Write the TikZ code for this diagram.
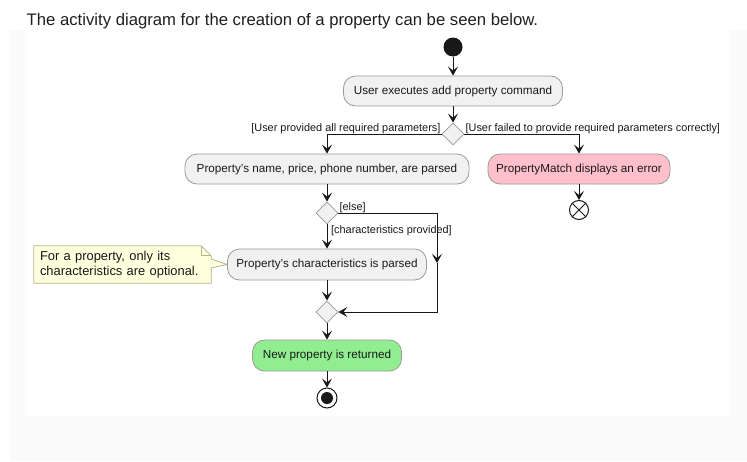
\documentclass[tikz,border=0pt]{standalone}
\usepackage{fontspec}
\setmainfont{Liberation Sans}
\usetikzlibrary{shapes.geometric,arrows.meta,backgrounds}

\definecolor{grigioAtt}{HTML}{F1F1F1}
\definecolor{bordoAtt}{HTML}{9A9A9A}
\definecolor{rosaErr}{HTML}{FFC0CB}
\definecolor{verdeFine}{HTML}{90EE90}
\definecolor{gialloNota}{HTML}{FEFFDD}
\definecolor{notaBordo}{HTML}{B5B58A}
\definecolor{linea}{HTML}{181818}
\definecolor{sfondo}{HTML}{FAFAFA}

\begin{document}
\begin{tikzpicture}[x=1pt, y=-1pt,
        every node/.style={text=black!90},
        azione/.style={draw=bordoAtt, fill=grigioAtt, rounded corners=12pt, minimum height=30pt, inner sep=0pt, line width=0.8pt, font=\fontsize{11.7}{14}\selectfont},
        decisione/.style={diamond, draw=bordoAtt, fill=grigioAtt, minimum width=22pt, minimum height=22pt, inner sep=0pt, line width=0.8pt},
        guardia/.style={font=\fontsize{10.9}{13}\selectfont, inner sep=1pt},
        freccia/.style={draw=linea, line width=1pt, -{Stealth[length=9pt, width=10pt, inset=4pt]}},
        contornoNota/.style={draw=notaBordo, fill=gialloNota, line width=0.8pt, line join=miter}
    ]

        % Sfondo
        \useasboundingbox (0,0) rectangle (747,461);
        \begin{scope}[on background layer]
            \fill[sfondo] (10,30) rectangle (747,461);
            \fill[white] (25,30) rectangle (730,416);
        \end{scope}
        \node[anchor=base west, inner sep=0pt, font=\fontsize{16.7}{20}\selectfont, text=black!88] (titolo) at (26.5,25) {The activity diagram for the creation of a property can be seen below.};

        % Nodi
        \node[circle, fill=linea, minimum size=19pt, inner sep=0pt] (inizio) at (453,47) {};
        \node[azione, minimum width=219pt] (comando) at (453,91) {User executes add property command};
        \node[decisione] (scelta) at (453,134) {};
        \node[azione, minimum width=284pt] (parsing) at (327,169) {Property's name, price, phone number, are parsed};
        \node[azione, minimum width=182pt, fill=rosaErr] (errore) at (579,169) {PropertyMatch displays an error};
        \node[circle, draw=linea, line width=1pt, minimum size=19pt, inner sep=0pt] (stopErr) at (579,210) {};
        \node[decisione] (sceltaCar) at (327,213) {};
        \node[azione, minimum width=199pt, minimum height=31pt] (caratt) at (327,264.5) {Property's characteristics is parsed};
        \node[decisione] (unione) at (327,312) {};
        \node[azione, minimum width=149pt, minimum height=31pt, fill=verdeFine] (ritorno) at (327,355.5) {New property is returned};
        \node[circle, draw=linea, line width=1pt, minimum size=20pt, inner sep=0pt] (fine) at (327,398) {};
        \node[circle, fill=linea, minimum size=12pt, inner sep=0pt] (fineDentro) at (fine) {};

        % Nota
        \node[inner xsep=6pt, inner ysep=0pt, text width=165pt, minimum height=37pt, align=left, font=\fontsize{12.9}{14.5}\selectfont] (nota) at (122.5,264.5) {For a property, only its\\characteristics are optional.};
        \begin{scope}[on background layer]
            \draw[contornoNota] (nota.south west) -- (nota.north west) -- ([xshift=-10pt]nota.north east) -- ([yshift=-10pt]nota.north east) -- ([yshift=5.5pt]nota.east) -- (caratt.west) -- ([yshift=-3.5pt]nota.east) -- (nota.south east) -- cycle;
            \draw[contornoNota, fill=none] ([xshift=-10pt]nota.north east) -- ([xshift=-10pt, yshift=-10pt]nota.north east) -- ([yshift=-10pt]nota.north east);
        \end{scope}

        % Frecce
        \draw[freccia] (inizio) -- (comando);
        \draw[freccia] (comando) -- (scelta);
        \draw[freccia] (scelta.west) -| (parsing.north);
        \draw[freccia] (scelta.east) -| (errore.north);
        \draw[freccia] (errore) -- (stopErr);
        \draw[draw=linea, line width=1pt] (stopErr.north west) -- (stopErr.south east) (stopErr.north east) -- (stopErr.south west);
        \draw[freccia] (parsing) -- (sceltaCar);
        \draw[freccia] (sceltaCar) -- (caratt);
        \draw[freccia] (caratt) -- (unione);
        \draw[freccia] (unione) -- (ritorno);
        \draw[freccia] (ritorno) -- (fine);

        % Ramo else
        \coordinate (altoDx) at (437,213);
        \coordinate (mezzoDx) at (437,263);
        \coordinate (bassoDx) at (437,312);
        \draw[freccia] (sceltaCar.east) -- (altoDx) -- (mezzoDx);
        \draw[freccia] (mezzoDx) -- (bassoDx) -- (unione.east);

        % Guardie
        \node[guardia, anchor=base east] (gSi) at ([yshift=2.5pt]scelta.west) {[User provided all required parameters]};
        \node[guardia, anchor=base west] (gNo) at ([yshift=2.5pt]scelta.east) {[User failed to provide required parameters correctly]};
        \node[guardia, anchor=base west] (gAltro) at ([yshift=2.5pt]sceltaCar.east) {[else]};
        \node[guardia, anchor=north west] (gCar) at ([xshift=3pt]sceltaCar.south) {[characteristics provided]};

    \end{tikzpicture}
\end{document}
